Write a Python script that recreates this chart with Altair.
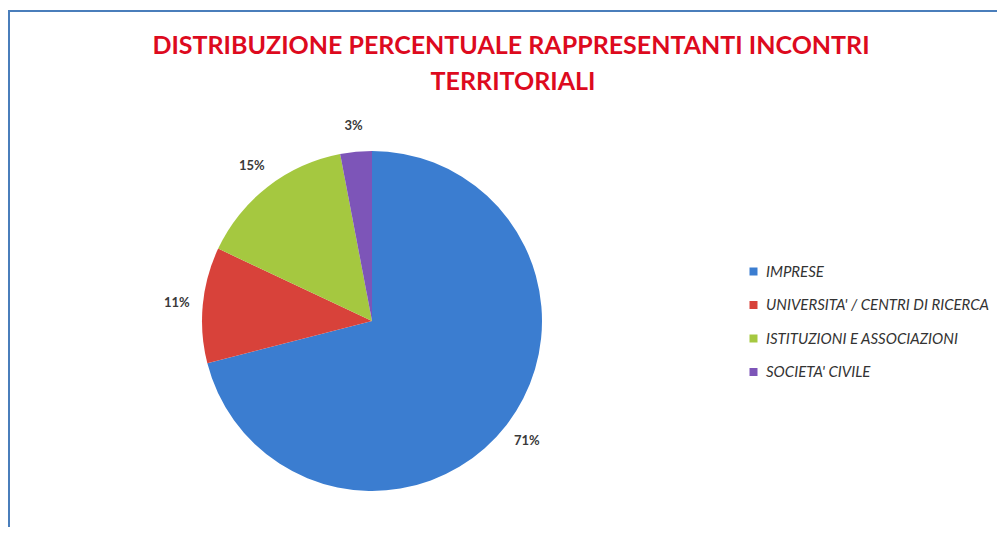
import altair as alt
import pandas as pd

categories = ["IMPRESE", "UNIVERSITA' / CENTRI DI RICERCA", "ISTITUZIONI E ASSOCIAZIONI", "SOCIETA' CIVILE"]
values = [71, 11, 15, 3]
labels = ["71%", "11%", "15%", "3%"]
colors = ["#3B7DD0", "#D8423A", "#A5C840", "#7D55B8"]
title_lines = ["DISTRIBUZIONE PERCENTUALE RAPPRESENTANTI INCONTRI", "TERRITORIALI"]

df = pd.DataFrame({"categoria": categories, "valore": values, "etichetta": labels, "ordine": list(range(len(categories)))})
df_title = pd.DataFrame({"riga": title_lines, "n": list(range(len(title_lines)))})

PAD_TOP = 96
W, H = 989, 519 - PAD_TOP
CX, CY = 364, 217

color = alt.Color("categoria:N",
                  scale=alt.Scale(domain=categories, range=colors),
                  sort=categories,
                  legend=alt.Legend(title=None, orient="none", legendX=738, legendY=160,
                                    symbolType="square", symbolSize=64, symbolStrokeWidth=0,
                                    labelFont="Lato", labelFontStyle="italic", labelFontSize=15,
                                    labelColor="#333333", labelOffset=5, rowPadding=17.5,
                                    labelLimit=400))

base = alt.Chart(df).encode(
    theta=alt.Theta("valore:Q", stack=True),
    order=alt.Order("ordine:Q"),
)

pie = base.mark_arc(outerRadius=170).encode(color=color, x=alt.value(CX), y=alt.value(CY))
text = base.mark_text(radius=196, font="Lato", fontWeight="bold", fontSize=13, color="#3a3a3a").encode(
    text="etichetta:N", x=alt.value(CX), y=alt.value(CY))

title1 = alt.Chart(df_title[df_title.n == 0]).mark_text(
    font="Lato", fontWeight="bold", fontSize=25, color="#DD0A1E", align="center", baseline="middle"
).encode(text="riga:N", x=alt.value(503), y=alt.value(-58))
title2 = alt.Chart(df_title[df_title.n == 1]).mark_text(
    font="Lato", fontWeight="bold", fontSize=25, color="#DD0A1E", align="center", baseline="middle"
).encode(text="riga:N", x=alt.value(505), y=alt.value(-22))

border = alt.Chart(pd.DataFrame({"b": [0]})).mark_rect(fill=None, stroke="#4A7EBB", strokeWidth=2).encode(
    x=alt.value(1), x2=alt.value(1200), y=alt.value(3 - PAD_TOP), y2=alt.value(900))

chart = alt.layer(border, title1, title2, pie, text).properties(
    width=W, height=H,
    autosize=alt.AutoSizeParams(type="none"),
    padding={"left": 0, "top": PAD_TOP, "right": 0, "bottom": 0},
).configure_view(stroke=None)

chart.save("out.html", embed_options={"renderer": "svg", "actions": False})
